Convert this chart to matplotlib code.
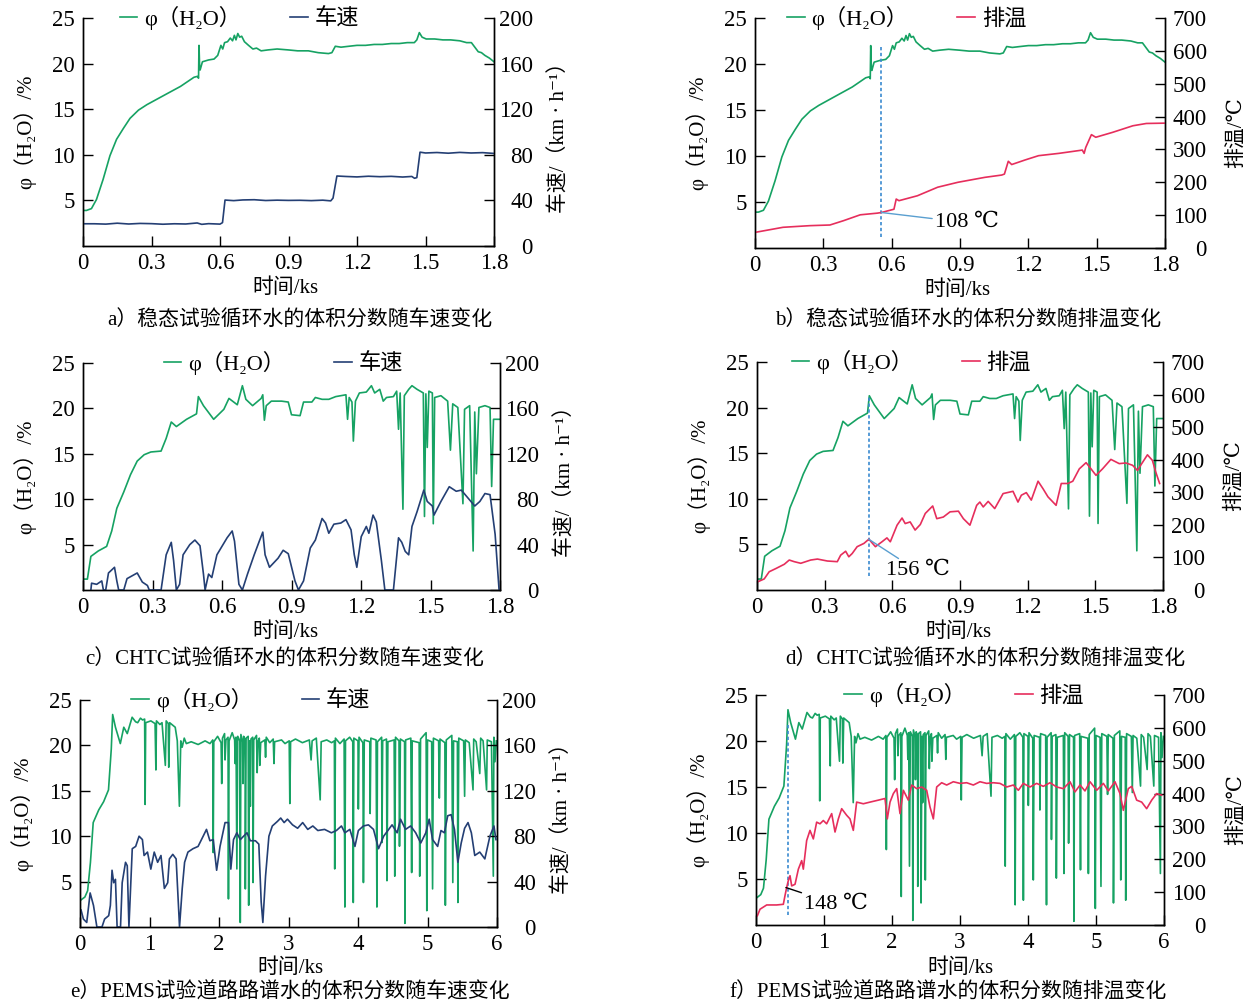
import numpy as np
import matplotlib.pyplot as plt

plt.rcParams['font.family'] = ['Liberation Serif', 'DejaVu Serif', 'Noto Sans CJK SC']
plt.rcParams['font.size'] = 15
plt.rcParams['axes.linewidth'] = 1.0

GREEN = '#16a263'
BLUE = '#243f74'
RED = '#e62e5c'
DASH = '#3a8ad0'

# ---- steady state test (a, b) ----
steady_h2o = [(0.000, 3.9), (0.015, 3.9), (0.037, 4.1), (0.059, 5.1), (0.088, 7.3), (0.118, 9.9),
              (0.147, 11.7), (0.177, 12.9), (0.206, 14.0), (0.243, 14.9), (0.280, 15.5), (0.324, 16.1),
              (0.368, 16.7), (0.427, 17.5), (0.486, 18.5), (0.501, 18.6), (0.506, 18.4), (0.508, 22.0),
              (0.511, 19.5), (0.513, 19.3), (0.523, 20.2), (0.550, 20.4), (0.574, 20.5), (0.590, 20.9),
              (0.604, 22.0), (0.612, 21.6), (0.620, 22.3), (0.633, 22.4), (0.645, 22.8), (0.655, 22.5),
              (0.663, 23.1), (0.670, 22.6), (0.678, 23.3), (0.686, 22.9), (0.695, 23.0), (0.707, 22.4),
              (0.725, 22.0), (0.744, 21.6), (0.760, 21.7), (0.780, 21.4), (0.810, 21.5), (0.850, 21.6),
              (0.899, 21.5), (0.940, 21.4), (0.987, 21.4), (1.030, 21.2), (1.075, 21.1), (1.090, 21.2),
              (1.105, 21.9), (1.130, 21.8), (1.164, 21.9), (1.200, 22.0), (1.237, 22.0), (1.275, 22.1),
              (1.311, 22.1), (1.350, 22.2), (1.385, 22.2), (1.420, 22.3), (1.451, 22.3), (1.462, 22.6),
              (1.473, 23.4), (1.485, 22.9), (1.503, 22.7), (1.540, 22.7), (1.576, 22.6), (1.610, 22.6),
              (1.650, 22.5), (1.680, 22.3), (1.701, 22.3), (1.716, 21.8), (1.731, 21.3), (1.745, 21.2),
              (1.760, 20.9), (1.780, 20.6), (1.800, 20.2)]

steady_speed = [(0.000, 19.5), (0.050, 19.5), (0.100, 19.2), (0.150, 20.0), (0.200, 19.3), (0.250, 19.8),
                (0.300, 19.6), (0.350, 19.1), (0.400, 19.5), (0.450, 19.3), (0.500, 20.2), (0.520, 19.0),
                (0.550, 19.6), (0.600, 19.2), (0.611, 20.5), (0.622, 40.3), (0.660, 39.8), (0.700, 40.4),
                (0.750, 40.6), (0.800, 39.9), (0.850, 40.2), (0.900, 40.0), (0.950, 40.1), (1.000, 39.8),
                (1.050, 40.2), (1.085, 39.6), (1.095, 42.0), (1.112, 61.4), (1.150, 61.0), (1.200, 60.6),
                (1.250, 61.2), (1.300, 60.8), (1.350, 61.1), (1.400, 60.5), (1.440, 61.0), (1.452, 59.4),
                (1.462, 60.0), (1.476, 82.3), (1.500, 81.6), (1.550, 82.0), (1.600, 81.4), (1.650, 82.1),
                (1.700, 81.6), (1.750, 81.9), (1.800, 81.2)]

steady_exh = [(0.004, 48), (0.123, 63), (0.241, 68), (0.329, 70), (0.388, 83), (0.462, 101), (0.536, 106),
              (0.555, 108), (0.610, 118), (0.620, 149), (0.632, 144), (0.713, 159), (0.802, 185),
              (0.891, 200), (1.009, 215), (1.083, 222), (1.095, 225), (1.112, 264), (1.127, 254),
              (1.186, 268), (1.245, 281), (1.334, 288), (1.437, 298), (1.445, 288), (1.452, 306),
              (1.477, 345), (1.496, 337), (1.570, 352), (1.659, 372), (1.718, 379), (1.800, 380)]

# ---- CHTC cycle (c, d) ----
chtc_h2o = [(0.000, 1.2), (0.019, 1.2), (0.034, 3.7), (0.066, 4.3), (0.102, 4.8), (0.124, 6.5), (0.146, 9.0),
            (0.176, 10.8), (0.205, 12.7), (0.234, 14.2), (0.264, 14.9), (0.293, 15.2), (0.337, 15.3),
            (0.359, 16.7), (0.381, 18.5), (0.403, 18.0), (0.447, 18.8), (0.490, 19.4), (0.498, 21.3),
            (0.520, 20.3), (0.564, 18.8), (0.608, 19.9), (0.630, 21.1), (0.666, 20.4), (0.688, 22.5),
            (0.703, 21.0), (0.732, 20.3), (0.769, 21.1), (0.776, 21.5), (0.783, 18.7), (0.791, 20.3),
            (0.813, 20.8), (0.857, 20.8), (0.886, 20.7), (0.900, 19.3), (0.937, 19.2), (0.952, 20.7),
            (0.988, 20.7), (1.003, 21.2), (1.032, 21.0), (1.061, 21.0), (1.091, 21.3), (1.135, 21.5),
            (1.142, 18.8), (1.149, 21.2), (1.161, 20.7), (1.167, 16.4), (1.176, 20.8), (1.193, 21.7),
            (1.223, 21.8), (1.245, 22.5), (1.259, 21.7), (1.281, 22.1), (1.296, 20.8), (1.310, 21.2),
            (1.340, 21.3), (1.354, 21.9), (1.362, 17.7), (1.369, 21.7), (1.381, 8.9), (1.387, 21.4),
            (1.406, 22.1), (1.420, 22.5), (1.442, 22.1), (1.469, 21.7), (1.474, 8.1), (1.480, 21.6),
            (1.486, 15.7), (1.493, 21.9), (1.508, 21.7), (1.512, 7.3), (1.518, 21.2), (1.545, 21.4),
            (1.574, 20.8), (1.586, 15.4), (1.596, 20.5), (1.618, 20.1), (1.640, 9.5), (1.647, 19.9),
            (1.669, 20.3), (1.684, 4.3), (1.691, 19.6), (1.698, 12.8), (1.709, 20.1), (1.735, 20.3),
            (1.757, 20.1), (1.764, 11.4), (1.772, 18.8), (1.800, 18.8)]

chtc_speed = [(0.034, 0), (0.037, 6), (0.059, 5), (0.081, 8), (0.088, 0), (0.098, 0), (0.110, 15), (0.136, 20),
              (0.146, 8), (0.154, 0), (0.176, 0), (0.190, 10), (0.234, 15), (0.256, 7), (0.278, 4), (0.286, 0),
              (0.337, 0), (0.359, 31), (0.381, 42), (0.391, 26), (0.403, 0), (0.417, 5), (0.432, 31),
              (0.461, 40), (0.483, 44), (0.505, 39), (0.520, 14), (0.527, 0), (0.542, 14), (0.556, 11),
              (0.578, 31), (0.622, 46), (0.644, 52), (0.654, 43), (0.673, 5), (0.688, 0), (0.710, 14),
              (0.739, 31), (0.761, 43), (0.776, 51), (0.786, 31), (0.805, 20), (0.842, 28), (0.864, 35),
              (0.886, 32), (0.915, 8), (0.930, 0), (0.952, 8), (0.981, 37), (1.003, 44), (1.032, 63),
              (1.047, 59), (1.061, 50), (1.083, 58), (1.113, 59), (1.135, 62), (1.157, 53), (1.171, 31),
              (1.182, 20), (1.201, 47), (1.223, 56), (1.234, 50), (1.252, 66), (1.266, 60), (1.288, 26),
              (1.303, 0), (1.340, 0), (1.362, 46), (1.376, 42), (1.391, 34), (1.406, 31), (1.420, 56),
              (1.442, 69), (1.471, 88), (1.486, 78), (1.508, 74), (1.515, 66), (1.545, 78), (1.581, 91),
              (1.611, 87), (1.633, 88), (1.662, 81), (1.691, 74), (1.713, 78), (1.735, 85), (1.757, 84),
              (1.779, 49), (1.796, 0)]

chtc_exh = [(0.006, 26), (0.032, 34), (0.054, 56), (0.084, 66), (0.121, 79), (0.143, 92), (0.165, 87),
            (0.194, 82), (0.238, 92), (0.268, 95), (0.312, 89), (0.356, 87), (0.371, 107), (0.393, 119),
            (0.407, 102), (0.422, 112), (0.444, 133), (0.474, 143), (0.496, 156), (0.525, 133), (0.554, 148),
            (0.576, 160), (0.591, 148), (0.621, 199), (0.643, 221), (0.657, 204), (0.679, 209), (0.701, 184),
            (0.724, 201), (0.746, 235), (0.779, 258), (0.797, 219), (0.826, 224), (0.856, 240), (0.893, 242),
            (0.915, 219), (0.944, 199), (0.974, 260), (0.988, 270), (1.003, 255), (1.025, 272), (1.054, 250),
            (1.091, 296), (1.135, 303), (1.157, 270), (1.172, 291), (1.194, 299), (1.216, 276), (1.246, 334),
            (1.268, 311), (1.290, 286), (1.326, 260), (1.349, 327), (1.378, 327), (1.400, 334), (1.429, 372),
            (1.459, 391), (1.474, 378), (1.503, 352), (1.532, 372), (1.569, 401), (1.606, 388), (1.635, 390),
            (1.665, 383), (1.687, 367), (1.701, 383), (1.731, 415), (1.753, 398), (1.768, 362), (1.785, 327)]

# ---- PEMS road test (e, f) ----
pems_h2o = [(0.000, 2.9), (0.070, 3.3), (0.110, 4.0), (0.150, 7.1), (0.190, 11.5), (0.270, 12.9), (0.340, 13.8),
            (0.410, 15.1), (0.450, 19.6), (0.470, 23.4), (0.510, 22.0), (0.580, 20.2), (0.630, 22.0),
            (0.680, 21.3), (0.750, 23.1), (0.800, 22.6), (0.830, 22.5), (0.870, 23.0), (0.900, 22.8),
            (0.930, 22.9), (0.937, 13.5), (0.945, 22.5), (1.020, 22.7), (1.080, 22.4), (1.092, 17.3),
            (1.100, 22.7), (1.150, 22.3), (1.180, 22.5), (1.228, 17.8), (1.240, 22.7), (1.270, 22.4),
            (1.277, 17.6), (1.290, 22.5), (1.370, 22.0), (1.400, 20.5), (1.430, 13.3), (1.450, 20.5),
            (1.470, 19.8), (1.500, 20.8), (1.530, 20.2), (1.600, 20.4), (1.700, 20.1), (1.800, 20.5),
            (1.870, 20.2), (1.910, 20.6), (1.917, 8.2), (1.925, 20.4), (1.980, 21.0), (2.030, 20.3),
            (2.039, 15.8), (2.050, 20.8), (2.080, 21.3), (2.087, 18.4), (2.100, 20.6), (2.130, 20.9),
            (2.136, 3.1), (2.145, 20.5), (2.190, 21.4), (2.225, 20.6), (2.233, 18.0), (2.245, 20.9),
            (2.257, 6.4), (2.270, 21.0), (2.300, 20.5), (2.306, 0.5), (2.315, 21.2), (2.340, 20.4),
            (2.345, 15.8), (2.355, 21.0), (2.375, 20.6), (2.379, 4.2), (2.390, 20.8), (2.420, 21.0),
            (2.427, 2.4), (2.440, 20.5), (2.451, 13.3), (2.460, 20.7), (2.485, 20.9), (2.490, 4.9),
            (2.500, 20.6), (2.540, 21.1), (2.549, 17.0), (2.560, 20.4), (2.580, 20.8), (2.587, 17.8),
            (2.600, 20.3), (2.660, 20.6), (2.670, 18.7), (2.680, 20.9), (2.730, 20.3), (2.780, 20.7),
            (2.791, 18.0), (2.800, 20.4), (2.900, 20.6), (2.950, 20.2), (3.010, 20.5), (3.019, 13.6),
            (3.030, 20.4), (3.100, 20.7), (3.200, 20.3), (3.300, 20.6), (3.325, 18.4), (3.340, 20.5),
            (3.400, 20.8), (3.456, 14.0), (3.470, 20.4), (3.550, 20.6), (3.620, 20.3), (3.660, 20.5),
            (3.665, 6.4), (3.675, 20.8), (3.740, 20.2), (3.800, 20.7), (3.811, 2.2), (3.820, 20.5),
            (3.880, 20.9), (3.925, 20.4), (3.932, 2.7), (3.940, 20.8), (4.000, 20.5), (4.005, 13.0),
            (4.015, 20.9), (4.070, 20.3), (4.078, 4.9), (4.090, 20.6), (4.170, 20.4), (4.175, 12.5),
            (4.185, 20.8), (4.260, 20.6), (4.272, 2.2), (4.280, 20.4), (4.340, 20.9), (4.345, 9.3),
            (4.355, 20.5), (4.410, 20.7), (4.417, 5.1), (4.430, 20.4), (4.520, 20.6), (4.529, 5.6),
            (4.540, 20.9), (4.590, 20.5), (4.597, 8.9), (4.610, 20.7), (4.670, 20.4), (4.675, 0.4),
            (4.685, 20.6), (4.760, 20.8), (4.772, 6.0), (4.780, 20.5), (4.880, 20.3), (4.888, 5.6),
            (4.900, 20.7), (4.980, 21.4), (4.990, 1.8), (5.000, 20.6), (5.060, 20.4), (5.073, 4.2),
            (5.085, 20.8), (5.160, 20.5), (5.170, 14.2), (5.180, 20.7), (5.250, 20.3), (5.257, 2.4),
            (5.270, 20.6), (5.350, 21.1), (5.364, 4.9), (5.375, 20.5), (5.430, 20.4), (5.437, 2.7),
            (5.450, 20.8), (5.520, 20.5), (5.534, 14.4), (5.545, 20.6), (5.600, 20.3), (5.655, 15.1),
            (5.665, 20.7), (5.700, 20.4), (5.752, 16.9), (5.765, 20.8), (5.800, 20.5), (5.850, 15.1),
            (5.860, 20.6), (5.920, 20.4), (5.947, 5.6), (5.955, 20.9), (5.971, 18.2), (5.990, 20.5)]

pems_speed = [(0.015, 15), (0.049, 7), (0.097, 4), (0.146, 30), (0.194, 19), (0.243, 0), (0.316, 0), (0.354, 7),
              (0.413, 10), (0.437, 19), (0.461, 50), (0.485, 39), (0.510, 42), (0.534, 0), (0.583, 0),
              (0.607, 39), (0.655, 57), (0.680, 54), (0.704, 0), (0.752, 69), (0.801, 71), (0.850, 80),
              (0.898, 77), (0.922, 63), (0.971, 66), (1.019, 51), (1.068, 66), (1.117, 57), (1.165, 63),
              (1.214, 34), (1.262, 39), (1.286, 60), (1.335, 64), (1.383, 60), (1.432, 0), (1.471, 34),
              (1.505, 57), (1.553, 66), (1.626, 69), (1.699, 71), (1.772, 80), (1.820, 86), (1.869, 76),
              (1.917, 77), (1.966, 50), (2.015, 71), (2.087, 92), (2.136, 92), (2.170, 51), (2.209, 77),
              (2.257, 83), (2.306, 77), (2.354, 80), (2.403, 83), (2.451, 76), (2.524, 76), (2.573, 73),
              (2.607, 22), (2.631, 4), (2.670, 45), (2.718, 80), (2.767, 89), (2.840, 93), (2.888, 96),
              (2.937, 92), (2.985, 95), (3.058, 90), (3.131, 87), (3.204, 92), (3.277, 86), (3.350, 89),
              (3.422, 85), (3.519, 86), (3.617, 83), (3.689, 85), (3.762, 89), (3.811, 83), (3.883, 86),
              (3.956, 71), (4.005, 85), (4.078, 89), (4.150, 90), (4.223, 86), (4.296, 69), (4.369, 80),
              (4.442, 86), (4.490, 90), (4.563, 83), (4.612, 95), (4.684, 86), (4.757, 89), (4.830, 83),
              (4.903, 74), (4.976, 83), (5.024, 95), (5.073, 77), (5.146, 71), (5.194, 85), (5.243, 83),
              (5.291, 98), (5.340, 99), (5.388, 86), (5.437, 57), (5.485, 74), (5.534, 87), (5.583, 92),
              (5.631, 83), (5.680, 63), (5.752, 66), (5.825, 60), (5.898, 80), (5.956, 89), (5.985, 77)]

pems_exh = [(0.020, 28), (0.059, 48), (0.157, 61), (0.304, 61), (0.402, 63), (0.426, 89), (0.451, 114),
            (0.475, 135), (0.500, 150), (0.525, 119), (0.574, 124), (0.623, 170), (0.672, 196), (0.696, 170),
            (0.745, 257), (0.794, 288), (0.843, 262), (0.892, 313), (0.941, 308), (0.990, 318), (1.039, 308),
            (1.113, 339), (1.162, 283), (1.211, 323), (1.260, 354), (1.333, 334), (1.382, 323), (1.431, 288),
            (1.480, 374), (1.578, 369), (1.676, 374), (1.799, 380), (1.897, 385), (1.931, 323), (1.971, 374),
            (2.020, 400), (2.069, 415), (2.118, 339), (2.167, 410), (2.240, 380), (2.289, 426), (2.363, 415),
            (2.436, 420), (2.510, 410), (2.559, 359), (2.608, 323), (2.657, 420), (2.730, 433), (2.804, 426),
            (2.902, 436), (3.000, 431), (3.098, 433), (3.196, 426), (3.294, 436), (3.392, 431), (3.490, 433),
            (3.588, 431), (3.686, 420), (3.784, 426), (3.858, 410), (3.931, 431), (4.029, 420), (4.127, 431),
            (4.225, 422), (4.324, 433), (4.422, 420), (4.520, 415), (4.618, 436), (4.691, 405), (4.765, 426),
            (4.838, 408), (4.912, 436), (5.010, 410), (5.108, 431), (5.181, 408), (5.279, 436), (5.353, 400),
            (5.402, 349), (5.475, 415), (5.525, 422), (5.598, 380), (5.672, 374), (5.745, 354), (5.819, 380),
            (5.892, 400), (5.966, 395)]

x_short = [0, 0.3, 0.6, 0.9, 1.2, 1.5, 1.8]
x_short_labels = ['0', '0.3', '0.6', '0.9', '1.2', '1.5', '1.8']
x_long = [0, 1, 2, 3, 4, 5, 6]
x_long_labels = ['0', '1', '2', '3', '4', '5', '6']
left_ticks = [5, 10, 15, 20, 25]
speed_ticks = [0, 40, 80, 120, 160, 200]
exh_ticks = [0, 100, 200, 300, 400, 500, 600, 700]

W, H = 1251, 1005
TICK_FS = 16.5
fig = plt.figure(figsize=(W / 100, H / 100), dpi=100)


def unz(pairs):
    a = np.array(pairs, dtype=float)
    return a[:, 0], a[:, 1]


def panel(box, h2o, sec, kind, xt, xtl, legx, cap, cap_xy, xl_xy, legy=1.0):
    x0, x1, y0, y1 = box
    ax = fig.add_axes([x0 / W, 1 - y1 / H, (x1 - x0) / W, (y1 - y0) / H])
    ax2 = ax.twinx()
    t, v = unz(h2o)
    l1, = ax.plot(t, v, color=GREEN, lw=1.2)
    ts, vs = unz(sec)
    w = x1 - x0
    if kind == 'speed':
        l2, = ax2.plot(ts, vs, color=BLUE, lw=1.2)
        ax2.set_ylim(0, 200)
        ax2.set_yticks(speed_ticks)
        ax2.set_ylabel('车速/（km · h⁻¹）')
        lab2 = '车速'
        ax2.yaxis.set_label_coords(1 + 56 / w, 0.5)
        rpad = 28
    else:
        l2, = ax2.plot(ts, vs, color=RED, lw=1.2)
        ax2.set_ylim(0, 700)
        ax2.set_yticks(exh_ticks)
        ax2.set_ylabel('排温/℃')
        lab2 = '排温'
        ax2.yaxis.set_label_coords(1 + 62 / w, 0.5)
        rpad = 30
    ax.set_xlim(xt[0], xt[-1])
    ax.set_ylim(0, 25)
    ax.set_xticks(xt)
    ax.set_xticklabels(xtl)
    ax.set_yticks(left_ticks)
    ax.set_ylabel('φ（H₂O）/%')
    ax.yaxis.set_label_coords(-47 / w, 0.5)
    for a in (ax, ax2):
        a.spines['top'].set_visible(False)
        a.tick_params(direction='in', length=7, width=1, labelsize=TICK_FS)
    ax.tick_params(axis='y', pad=6)
    ax.tick_params(axis='x', pad=5)
    ax2.tick_params(axis='y', pad=rpad)
    for lab in ax2.get_yticklabels():
        lab.set_horizontalalignment('right')
    ax.legend([l1, l2], ['φ（H₂O）', lab2], loc='center', bbox_to_anchor=(legx, legy),
              ncol=2, frameon=False, handlelength=0.8, handletextpad=0.3, columnspacing=2.2,
              borderaxespad=0, fontsize=16)
    fig.text(xl_xy[0] / W, 1 - xl_xy[1] / H, '时间/ks', ha='center', va='center', fontsize=15)
    fig.text(cap_xy[0] / W, 1 - cap_xy[1] / H, cap, ha='center', va='center', fontsize=15)
    return ax, ax2


ax_a, ax_a2 = panel((83, 494, 18, 246), steady_h2o, steady_speed, 'speed', x_short, x_short_labels,
                    0.38, 'a）稳态试验循环水的体积分数随车速变化', (300, 321), (285, 288))
ax_b, ax_b2 = panel((755, 1165, 18, 248), steady_h2o, steady_exh, 'exh', x_short, x_short_labels,
                    0.37, 'b）稳态试验循环水的体积分数随排温变化', (968, 321), (957, 290))
ax_c, ax_c2 = panel((83, 500, 363, 590), chtc_h2o, chtc_speed, 'speed', x_short, x_short_labels,
                    0.48, 'c）CHTC试验循环水的体积分数随车速变化', (285, 660), (285, 632))
ax_d, ax_d2 = panel((757, 1163, 362, 590), chtc_h2o, chtc_exh, 'exh', x_short, x_short_labels,
                    0.38, 'd）CHTC试验循环水的体积分数随排温变化', (985, 660), (958, 632))
ax_e, ax_e2 = panel((80, 497, 700, 927), pems_h2o, pems_speed, 'speed', x_long, x_long_labels,
                    0.41, 'e）PEMS试验道路路谱水的体积分数随车速变化', (290, 993), (290, 968))
ax_f, ax_f2 = panel((756, 1164, 695, 925), pems_h2o, pems_exh, 'exh', x_long, x_long_labels,
                    0.51, 'f）PEMS试验道路路谱水的体积分数随排温变化', (948, 993), (960, 968))

# marker lines for the start temperature
ax_b.plot([0.555, 0.555], [1.2, 22.0], color=DASH, lw=1.2, ls=(0, (2, 1.5)))
ax_b2.annotate('108 ℃', xy=(0.555, 108), xytext=(0.79, 77), va='center', fontsize=16,
               arrowprops=dict(arrowstyle='-', color='#5a9fd0', lw=1.0, shrinkA=0, shrinkB=0))
ax_d.plot([0.495, 0.495], [1.5, 21.2], color=DASH, lw=1.2, ls=(0, (2, 1.5)))
ax_d2.annotate('156 ℃', xy=(0.495, 156), xytext=(0.57, 59), va='center', fontsize=16,
               arrowprops=dict(arrowstyle='-', color='#5a9fd0', lw=1.0, shrinkA=0, shrinkB=0))
ax_f.plot([0.475, 0.475], [1.1, 21.8], color=DASH, lw=1.2, ls=(0, (2, 1.5)))
ax_f2.annotate('148 ℃', xy=(0.44, 114), xytext=(0.71, 63), va='center', fontsize=16,
               arrowprops=dict(arrowstyle='-', color='black', lw=1.0, shrinkA=0, shrinkB=0))

fig.savefig('out.png', dpi=100)
